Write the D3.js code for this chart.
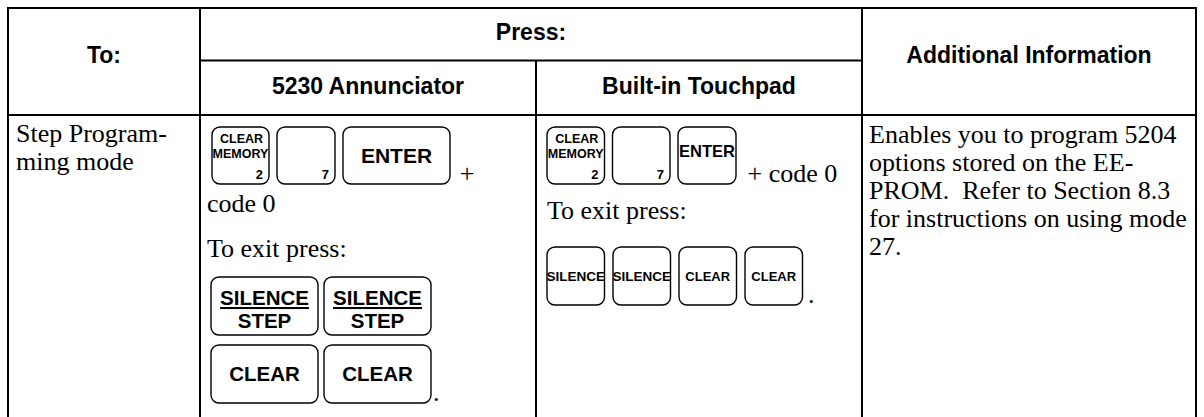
<!DOCTYPE html>
<html><head><meta charset="utf-8">
<script src="https://cdn.jsdelivr.net/npm/d3@7"></script>
<style>body{margin:0;background:#fff}svg{display:block}</style>
</head><body><svg id="c" width="1204" height="417"></svg>
<script>
// ---- data ----
const headerColumns = ["To:", "Press:", "Additional Information"];
const pressSubColumns = ["5230 Annunciator", "Built-in Touchpad"];
const rowLabelLines = ["Step Program-", "ming mode"];
const infoLines = ["Enables you to program 5204", "options stored on the EE-", "PROM.\u00a0 Refer to Section 8.3", "for instructions on using mode", "27."];
const entryKeys = [["CLEAR", "MEMORY", "2"], ["", "", "7"], ["ENTER"]];
const annExitKeys = [["SILENCE", "STEP"], ["SILENCE", "STEP"], ["CLEAR"], ["CLEAR"]];
const padExitKeys = ["SILENCE", "SILENCE", "CLEAR", "CLEAR"];
const entrySuffix = ["+", "code 0", "+ code 0"];
const exitText = "To exit press:";

// ---- layout ----
const svg = d3.select("#c");
const SANS = "'Liberation Sans', Arial, sans-serif";
const SERIF = "'Liberation Serif', 'Times New Roman', serif";
const colX = d3.scaleOrdinal().domain([0,1,2,3,4]).range([8, 200, 536, 862, 1196]);
const rowY = d3.scaleOrdinal().domain(["top","mid","body","bottom"]).range([8, 60.5, 115, 420]);

function line(x1,y1,x2,y2){
  svg.append("line").attr("x1",x1).attr("y1",y1).attr("x2",x2).attr("y2",y2)
    .attr("stroke","#000").attr("stroke-width",2);
}
// grid
line(colX(0)-1, rowY("top"), colX(4)+1, rowY("top"));
line(colX(1), rowY("mid"), colX(3), rowY("mid"));
line(colX(0)-1, rowY("body"), colX(4)+1, rowY("body"));
[0,1,3,4].forEach(i => line(colX(i), rowY("top"), colX(i), rowY("bottom")));
line(colX(2), rowY("mid"), colX(2), rowY("bottom"));

function text(x,y,s,o={}){
  return svg.append("text").attr("x",x).attr("y",y).text(s)
    .attr("font-family",o.family||SERIF).attr("font-size",o.size||26)
    .attr("font-weight",o.weight||"normal").attr("text-anchor",o.anchor||"start")
    .attr("fill","#000");
}
// headers
const hb = {family:SANS, size:23, weight:"bold", anchor:"middle"};
text((colX(0)+colX(1))/2, 63, headerColumns[0], hb);
text((colX(1)+colX(3))/2, 40, headerColumns[1], hb);
text((colX(3)+colX(4))/2, 63, headerColumns[2], hb);
pressSubColumns.forEach((s,i)=> text((colX(1+i)+colX(2+i))/2, 94, s, hb));

// body: col 1
rowLabelLines.forEach((s,i)=> text(colX(0)+8, 142 + i*28, s));
// body: col 4
infoLines.forEach((s,i)=> text(colX(3)+7, 143 + i*28, s));

// keys
function keyRect(x,y,w,h){
  svg.append("rect").attr("x",x).attr("y",y).attr("width",w).attr("height",h)
    .attr("rx",8).attr("ry",8).attr("fill","#fff").attr("stroke","#000").attr("stroke-width",1.4);
}
function numKey(x,y,w,h,k){
  keyRect(x,y,w,h);
  const o = {family:SANS, size:12.5, weight:"bold", anchor:"middle"};
  if (k[0]) text(x+w/2+1, y+16, k[0], o);
  if (k[1]) text(x+w/2, y+31, k[1], o);
  text(x+w-6, y+h-5, k[2], {family:SANS, size:13, weight:"bold", anchor:"end"});
}
function labelKey(x,y,w,h,lines,size,underline,dy){
  keyRect(x,y,w,h);
  const o = {family:SANS, size:size, weight:"bold", anchor:"middle"};
  if (lines.length === 1) {
    text(x+w/2, y+h/2+size*0.36+(dy||0), lines[0], o);
  } else {
    const t = text(x+w/2, y+28, lines[0], o);
    if (underline) t.attr("text-decoration","underline");
    text(x+w/2, y+51, lines[1], o);
  }
}

// Annunciator column
(function(){
  const x0 = colX(1)+12, y0 = 127, h = 57;
  numKey(x0, y0, 57, h, entryKeys[0]);
  numKey(x0+65, y0, 58, h, entryKeys[1]);
  labelKey(x0+131, y0, 107, h, entryKeys[2], 21);
  text(x0+255, 182, entrySuffix[0], {anchor:"middle"});
  text(colX(1)+7, 212, entrySuffix[1]);
  text(colX(1)+7, 257, exitText);
  const ex = colX(1)+11, ew = 107;
  [0,1].forEach(r => [0,1].forEach(c => {
    const k = annExitKeys[r*2+c];
    labelKey(ex + c*(ew+6), 277 + r*68, ew, 58, k, 20.5, k.length>1);
  }));
  text(ex+2*ew+8, 401, ".");
})();

// Touchpad column
(function(){
  const x0 = colX(2)+11, y0 = 127, h = 57, step = 65.5;
  numKey(x0, y0, 57.5, h, entryKeys[0]);
  numKey(x0+step, y0, 57.5, h, entryKeys[1]);
  labelKey(x0+2*step, y0, 58, h, entryKeys[2], 16.5, false, -4);
  text(x0+3*step+4, 182, entrySuffix[2]);
  text(colX(2)+11, 219, exitText);
  padExitKeys.forEach((k,i)=>{
    labelKey(x0 + i*66, 247, 57.5, 58, [k], k==="SILENCE"?13.5:13);
  });
  text(x0+4*66-3, 303, ".");
})();
</script>
</body></html>
